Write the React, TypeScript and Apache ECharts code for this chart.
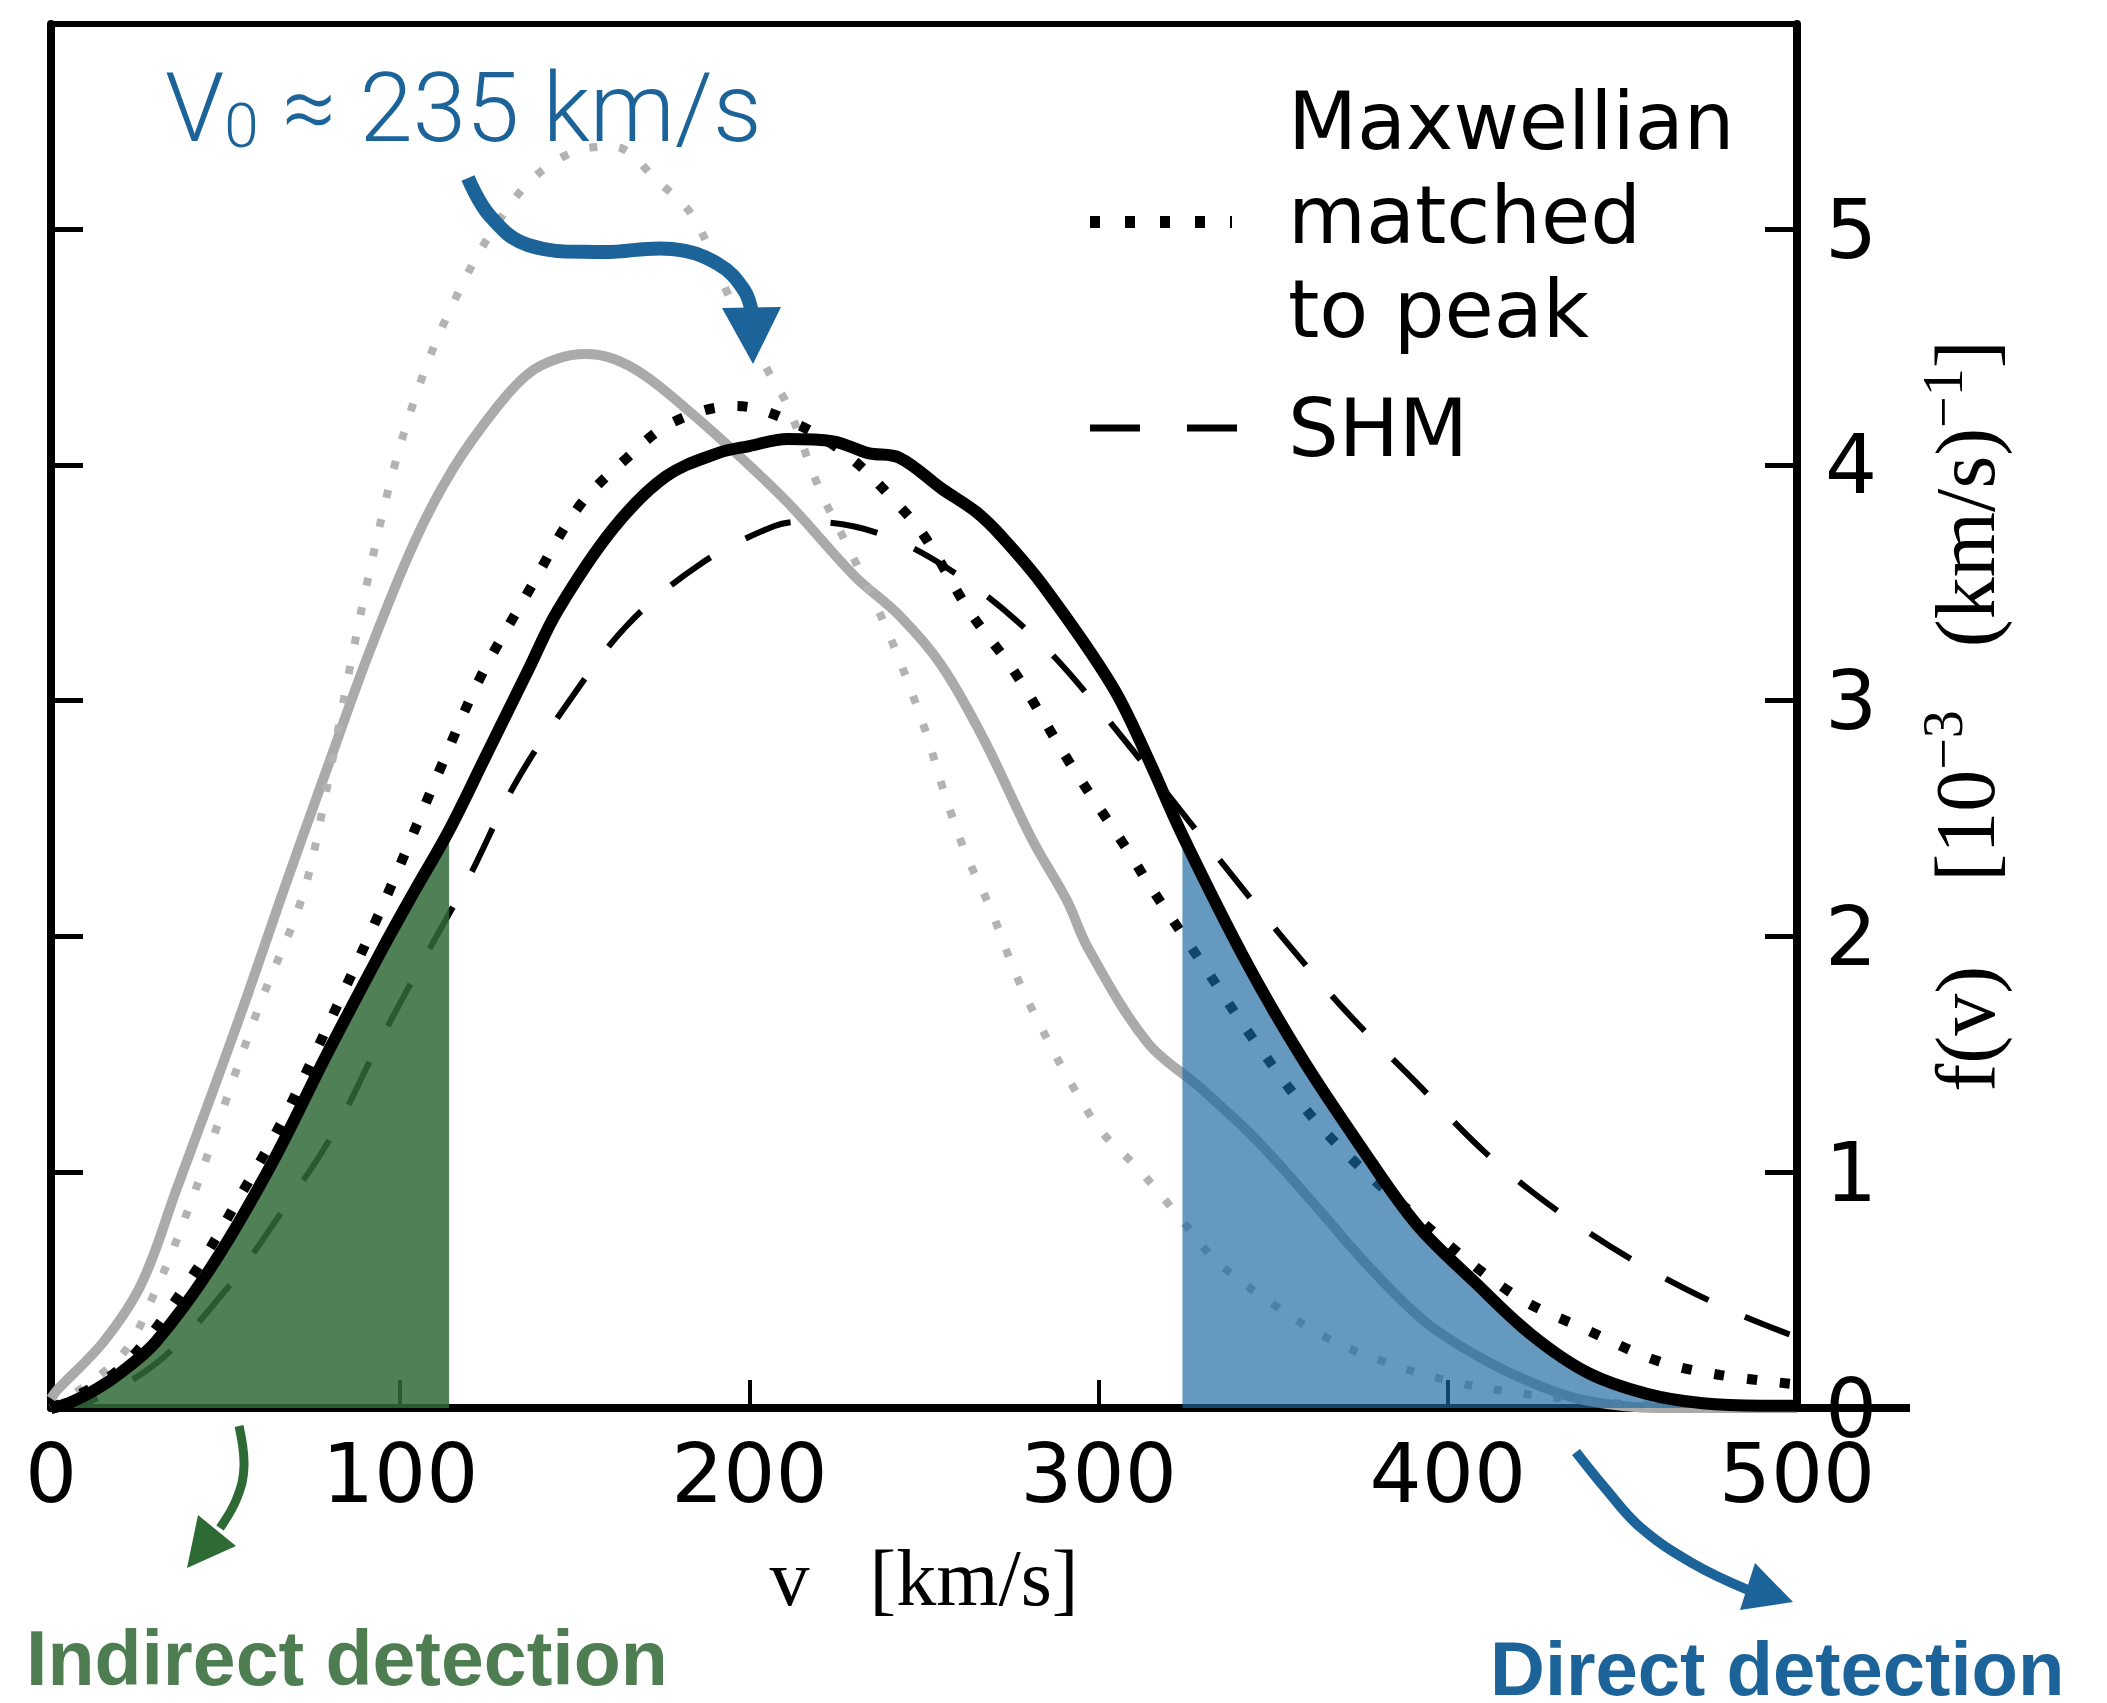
import React, { useEffect, useRef } from "react";
import * as echarts from "echarts";

// ---------- data ----------
const X_TICKS = [0, 100, 200, 300, 400, 500];
const Y_TICKS = [0, 1, 2, 3, 4, 5];
const X_MAX = 500;
const Y_MAX = 5.87;
const INDIRECT_EDGE_V = 114; // green region: v <= this
const DIRECT_EDGE_V = 324; // blue region: v >= this

// black solid: simulated halo f(v)
const SIM_DM: [number, number][] = [
  [0, 0], [5, 0.02], [13, 0.08], [20, 0.15], [30, 0.28], [46, 0.6], [63, 1.03],
  [79, 1.5], [95, 1.95], [104, 2.19], [114, 2.45], [125, 2.78], [137, 3.14],
  [145, 3.38], [161, 3.73], [176, 3.95], [191, 4.05], [200, 4.08], [211, 4.11],
  [224, 4.1], [234, 4.05], [243, 4.03], [255, 3.9], [265, 3.8], [272, 3.7],
  [284, 3.49], [304, 3.06], [314, 2.76], [324, 2.43], [342, 1.9], [358, 1.49],
  [375, 1.11], [391, 0.78], [408, 0.53], [424, 0.31], [440, 0.15], [457, 0.06],
  [473, 0.02], [490, 0.01], [500, 0.01],
];

// black dotted: Maxwellian matched to peak
const MAXWELL_MATCHED: [number, number][] = [
  [0, 0], [20, 0.17], [40, 0.55], [55, 0.92], [67, 1.24], [83, 1.74], [97, 2.2],
  [112, 2.73], [123, 3.1], [137, 3.47], [151, 3.82], [165, 4.03], [178, 4.18],
  [196, 4.25], [214, 4.17], [229, 4.03], [242, 3.84], [250, 3.7], [263, 3.38],
  [276, 3.12], [292, 2.73], [309, 2.35], [314, 2.23], [329, 1.9], [345, 1.55],
  [365, 1.17], [391, 0.81], [419, 0.48], [440, 0.33], [460, 0.2], [478, 0.14],
  [500, 0.1],
];

// dashed: SHM
const SHM: [number, number][] = [
  [0, 0], [10, 0.02], [31, 0.2], [50, 0.5], [66, 0.83], [81, 1.17], [94, 1.55],
  [107, 1.91], [120, 2.26], [133, 2.65], [148, 2.99], [165, 3.32], [186, 3.58],
  [207, 3.74], [216, 3.76], [237, 3.71], [260, 3.53], [283, 3.25], [301, 2.95],
  [336, 2.3], [353, 1.99], [371, 1.68], [391, 1.38], [411, 1.08], [432, 0.83],
  [455, 0.61], [480, 0.42], [500, 0.3],
];

// grey solid: second halo f(v)
const SIM_LIGHT: [number, number][] = [
  [0, 0.04], [2, 0.08], [15, 0.28], [26, 0.53], [36, 0.93], [46, 1.33], [56, 1.74],
  [66, 2.17], [79, 2.71], [91, 3.2], [104, 3.67], [115, 3.98], [128, 4.25],
  [137, 4.39], [145, 4.45], [153, 4.47], [161, 4.45], [170, 4.38], [181, 4.25],
  [194, 4.08], [211, 3.84], [230, 3.53], [243, 3.36], [255, 3.15], [267, 2.84],
  [281, 2.41], [291, 2.15], [297, 1.95], [314, 1.55], [329, 1.36], [345, 1.14],
  [362, 0.86], [378, 0.59], [394, 0.36], [411, 0.2], [427, 0.09], [440, 0.03],
  [460, 0], [500, 0],
];

// grey dotted: Maxwellian matched to grey peak
const MAXWELL_LIGHT: [number, number][] = [
  [0, 0], [20, 0.22], [30, 0.5], [40, 0.87], [50, 1.3], [60, 1.72], [72, 2.17],
  [79, 2.63], [86, 3.17], [92, 3.6], [99, 4.03], [107, 4.4], [115, 4.68],
  [125, 4.96], [137, 5.2], [150, 5.33], [161, 5.35], [174, 5.2], [184, 5.05],
  [194, 4.72], [206, 4.38], [211, 4.25], [220, 3.9], [230, 3.6], [240, 3.28],
  [250, 2.89], [256, 2.6], [262, 2.35], [269, 2.12], [276, 1.85], [283, 1.63],
  [292, 1.38], [301, 1.17], [311, 1.02], [322, 0.83], [334, 0.62], [350, 0.44],
  [365, 0.3], [381, 0.2], [399, 0.12], [417, 0.07], [440, 0.03], [460, 0.01],
];

// ---------- layout constants ----------
const W = 2107;
const H = 1703;
const GRID = { left: 51, top: 24, width: 1746, height: 1384 };
const TICK_FONT = "DejaVu Sans";
const BLUE = "#1c6399";
const GREEN_TEXT = "#4e7d51";
const GREEN_ARROW = "#2e6a34";

function lineSeries(name: string, data: [number, number][], color: string, width: number, type: any, z: number) {
  return {
    type: "line",
    name,
    data,
    symbol: "none",
    showSymbol: false,
    smooth: 0.35,
    silent: true,
    z,
    lineStyle: { color, width, type, cap: "butt" },
  };
}

function fillSeries(name: string, data: [number, number][], color: string, opacity: number) {
  return {
    type: "line",
    name,
    data,
    symbol: "none",
    showSymbol: false,
    smooth: 0.35,
    silent: true,
    z: 3,
    lineStyle: { width: 0, opacity: 0 },
    areaStyle: { color, opacity, origin: "start" },
  };
}

export default function App() {
  const ref = useRef<HTMLDivElement>(null);

  useEffect(() => {
    if (!ref.current) return;
    const chart = echarts.init(ref.current, undefined, { renderer: "svg" });

    const gridRight = GRID.left + GRID.width;
    const gridBottom = GRID.top + GRID.height;

    const option: any = {
      animation: false,
      backgroundColor: "#ffffff",
      grid: { left: GRID.left, top: GRID.top, width: GRID.width, height: GRID.height, containLabel: false },
      xAxis: [
        {
          type: "value",
          position: "bottom",
          min: 0,
          max: X_MAX,
          interval: 100,
          axisLine: { show: true, onZero: false, lineStyle: { color: "#000", width: 8 } },
          axisTick: { show: true, inside: true, length: 28, lineStyle: { color: "#000", width: 4 }, customValues: X_TICKS },
          axisLabel: { show: true, margin: 24, color: "#000", fontFamily: TICK_FONT, fontSize: 82, customValues: X_TICKS },
          splitLine: { show: false },
          name: "v   [km/s]",
          nameLocation: "middle",
          nameGap: 130,
          nameTextStyle: { fontFamily: "Liberation Serif", fontSize: 80, color: "#000" },
        },
        {
          type: "value",
          position: "top",
          min: 0,
          max: X_MAX,
          axisLine: { show: true, onZero: false, lineStyle: { color: "#000", width: 6 } },
          axisTick: { show: false },
          axisLabel: { show: false },
          splitLine: { show: false },
        },
      ],
      yAxis: [
        {
          type: "value",
          position: "left",
          min: 0,
          max: Y_MAX,
          axisLine: { show: true, onZero: false, lineStyle: { color: "#000", width: 8 } },
          axisTick: { show: true, inside: true, length: 32, lineStyle: { color: "#000", width: 5 }, customValues: Y_TICKS },
          axisLabel: { show: false },
          splitLine: { show: false },
        },
        {
          type: "value",
          position: "right",
          min: 0,
          max: Y_MAX,
          axisLine: { show: true, onZero: false, lineStyle: { color: "#000", width: 8 } },
          axisTick: { show: true, inside: true, length: 32, lineStyle: { color: "#000", width: 5 }, customValues: Y_TICKS },
          axisLabel: { show: true, margin: 28, color: "#000", fontFamily: TICK_FONT, fontSize: 82, customValues: Y_TICKS },
          splitLine: { show: false },
          name: "{m|f(v)    [10}{s|−3}{m|   (km/s)}{s|−1}{m|]}",
          nameLocation: "middle",
          nameRotate: 90,
          nameGap: 118,
          nameTextStyle: {
            rich: {
              m: { fontFamily: "Liberation Serif", fontSize: 84, lineHeight: 100, color: "#000" },
              s: { fontFamily: "Liberation Serif", fontSize: 56, lineHeight: 56, color: "#000", verticalAlign: "top" },
            },
          },
        },
      ],
      series: [
        lineSeries("grey halo", SIM_LIGHT, "#aaaaaa", 10, "solid", 2),
        lineSeries("grey Maxwellian", MAXWELL_LIGHT, "#b3b3b3", 8, [8, 22], 2),
        lineSeries("Maxwellian matched to peak", MAXWELL_MATCHED, "#000000", 10, [10, 23], 2),
        lineSeries("SHM", SHM, "#000000", 6, [48, 40], 2),
        fillSeries("Indirect detection", SIM_DM.filter((p) => p[0] <= INDIRECT_EDGE_V), "#316a37", 0.85),
        fillSeries("Direct detection", SIM_DM.filter((p) => p[0] >= DIRECT_EDGE_V), "#1b67a0", 0.67),
        lineSeries("halo", SIM_DM, "#000000", 12, "solid", 4),
      ],
      graphic: [
        // x-axis line extension beyond the right frame
        { type: "line", z: 50, shape: { x1: gridRight, y1: gridBottom, x2: 1910, y2: gridBottom }, style: { stroke: "#000", lineWidth: 8 } },
        // legend
        { type: "line", z: 50, shape: { x1: 1090, y1: 222, x2: 1232, y2: 222 }, style: { stroke: "#000", lineWidth: 12, lineDash: [10, 25] } },
        { type: "line", z: 50, shape: { x1: 1090, y1: 428, x2: 1238, y2: 428 }, style: { stroke: "#000", lineWidth: 7, lineDash: [50, 47] } },
        {
          type: "text", z: 50, x: 1288, y: 215,
          style: { text: "Maxwellian\nmatched\nto peak", fontFamily: TICK_FONT, fontSize: 80, lineHeight: 94, fill: "#000", align: "left", verticalAlign: "middle" },
        },
        {
          type: "text", z: 50, x: 1288, y: 428,
          style: { text: "SHM", fontFamily: TICK_FONT, fontSize: 80, fill: "#000", align: "left", verticalAlign: "middle" },
        },
        // V0 annotation
        {
          type: "text", z: 60, x: 165, y: 108,
          style: {
            text: "{a|V}{b|0}{a| ≈ 235 km/s}",
            align: "left",
            verticalAlign: "middle",
            rich: {
              a: { fontFamily: "Roboto", fontWeight: 300, fontSize: 96, fill: BLUE, verticalAlign: "bottom", lineHeight: 96 },
              b: { fontFamily: "Roboto", fontWeight: 300, fontSize: 62, fill: BLUE, verticalAlign: "bottom", lineHeight: 62 },
            },
          },
        },
        // top blue arrow
        {
          type: "polyline", z: 60,
          shape: { points: [[468, 178], [490, 216], [528, 245], [600, 252], [672, 249], [718, 264], [744, 290], [752, 314]], smooth: 0.4 },
          style: { stroke: BLUE, lineWidth: 14, fill: null },
        },
        { type: "polygon", z: 60, shape: { points: [[722, 308], [781, 307], [753, 364]] }, style: { fill: BLUE } },
        // green arrow
        {
          type: "polyline", z: 60,
          shape: { points: [[239, 1426], [244, 1466], [237, 1498], [220, 1528]], smooth: 0.4 },
          style: { stroke: GREEN_ARROW, lineWidth: 9, fill: null },
        },
        { type: "polygon", z: 60, shape: { points: [[198, 1515], [236, 1546], [187, 1568]] }, style: { fill: GREEN_ARROW } },
        // bottom blue arrow
        {
          type: "polyline", z: 60,
          shape: { points: [[1576, 1452], [1605, 1488], [1640, 1527], [1692, 1563], [1748, 1590]], smooth: 0.4 },
          style: { stroke: BLUE, lineWidth: 10, fill: null },
        },
        { type: "polygon", z: 60, shape: { points: [[1755, 1563], [1793, 1602], [1740, 1610]] }, style: { fill: BLUE } },
        // labels
        {
          type: "text", z: 60, x: 26, y: 1658,
          style: { text: "Indirect detection", fontFamily: "Liberation Sans", fontWeight: "bold", fontSize: 77, lineHeight: 62, fill: GREEN_TEXT, align: "left", verticalAlign: "middle" },
        },
        {
          type: "text", z: 60, x: 1490, y: 1668,
          style: { text: "Direct detection", fontFamily: "Liberation Sans", fontWeight: "bold", fontSize: 76, lineHeight: 58, fill: BLUE, align: "left", verticalAlign: "middle" },
        },
      ],
    };

    chart.setOption(option);
    return () => chart.dispose();
  }, []);

  return (
    <div
      ref={ref}
      style={{ position: "fixed", left: 0, top: 0, width: W, height: H, background: "#fff" }}
    />
  );
}
